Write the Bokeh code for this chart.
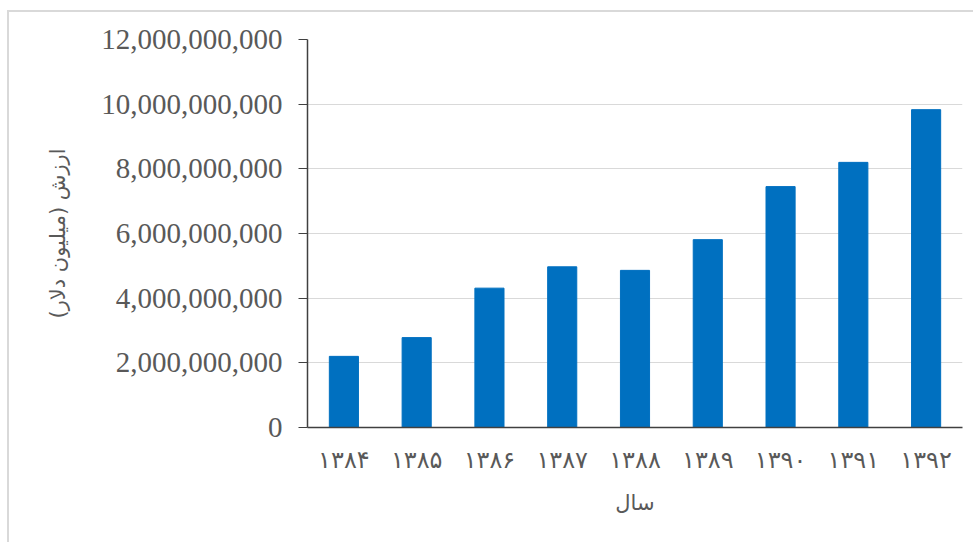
from bokeh.plotting import figure
from bokeh.models import FactorRange, Range1d, FixedTicker, NumeralTickFormatter
from bokeh.embed import file_html
from bokeh.resources import INLINE

years = ["۱۳۸۴", "۱۳۸۵", "۱۳۸۶", "۱۳۸۷", "۱۳۸۸", "۱۳۸۹", "۱۳۹۰", "۱۳۹۱", "۱۳۹۲"]
values = [2.2e9, 2.78e9, 4.31e9, 4.97e9, 4.86e9, 5.81e9, 7.45e9, 8.2e9, 9.83e9]
y_ticks = [0, 2e9, 4e9, 6e9, 8e9, 10e9, 12e9]
x_title = "سال"
y_title = "ارزش (میلیون دلار)"

p = figure(width=966, height=532, x_range=FactorRange(*years), y_range=Range1d(0, 12e9),
           output_backend="svg", toolbar_location=None,
           min_border_left=298, min_border_right=13, min_border_top=27, min_border_bottom=117)

p.vbar(x=years, top=values, width=0.4, color="#0070C0")

p.outline_line_color = None
p.xgrid.grid_line_color = None
p.ygrid.grid_line_color = "#d9d9d9"
p.ygrid.grid_line_width = 1

p.yaxis.ticker = FixedTicker(ticks=y_ticks)
p.yaxis.formatter = NumeralTickFormatter(format="0,0")
p.yaxis.major_label_text_font = "Liberation Serif"
p.yaxis.major_label_text_font_size = "29px"
p.yaxis.major_label_text_color = "#595959"
p.yaxis.major_tick_out = 9
p.yaxis.major_tick_in = 0
p.yaxis.minor_tick_line_color = None
p.yaxis.major_label_standoff = 16
p.yaxis.axis_line_color = "#404040"
p.yaxis.major_tick_line_color = "#404040"
p.yaxis.axis_line_width = 1.5
p.yaxis.axis_label = y_title
p.yaxis.axis_label_text_font = "DejaVu Sans"
p.yaxis.axis_label_text_font_style = "normal"
p.yaxis.axis_label_text_font_size = "21px"
p.yaxis.axis_label_text_color = "#595959"
p.yaxis.axis_label_standoff = 28

p.xaxis.major_tick_line_color = None
p.xaxis.minor_tick_line_color = None
p.xaxis.axis_line_color = "#404040"
p.xaxis.axis_line_width = 1.5
p.xaxis.major_label_text_font = "DejaVu Sans"
p.xaxis.major_label_text_font_size = "24px"
p.xaxis.major_label_text_color = "#595959"
p.xaxis.major_label_standoff = 12
p.xaxis.axis_label = x_title
p.xaxis.axis_label_text_font = "DejaVu Sans"
p.xaxis.axis_label_text_font_style = "normal"
p.xaxis.axis_label_text_font_size = "21px"
p.xaxis.axis_label_text_color = "#595959"
p.xaxis.axis_label_standoff = 14

p.styles = {"margin-left": "7px", "margin-top": "10px",
            "border-top": "2px solid #d9d9d9", "border-left": "2px solid #d9d9d9"}

open("out.html", "w").write(file_html(p, INLINE))
